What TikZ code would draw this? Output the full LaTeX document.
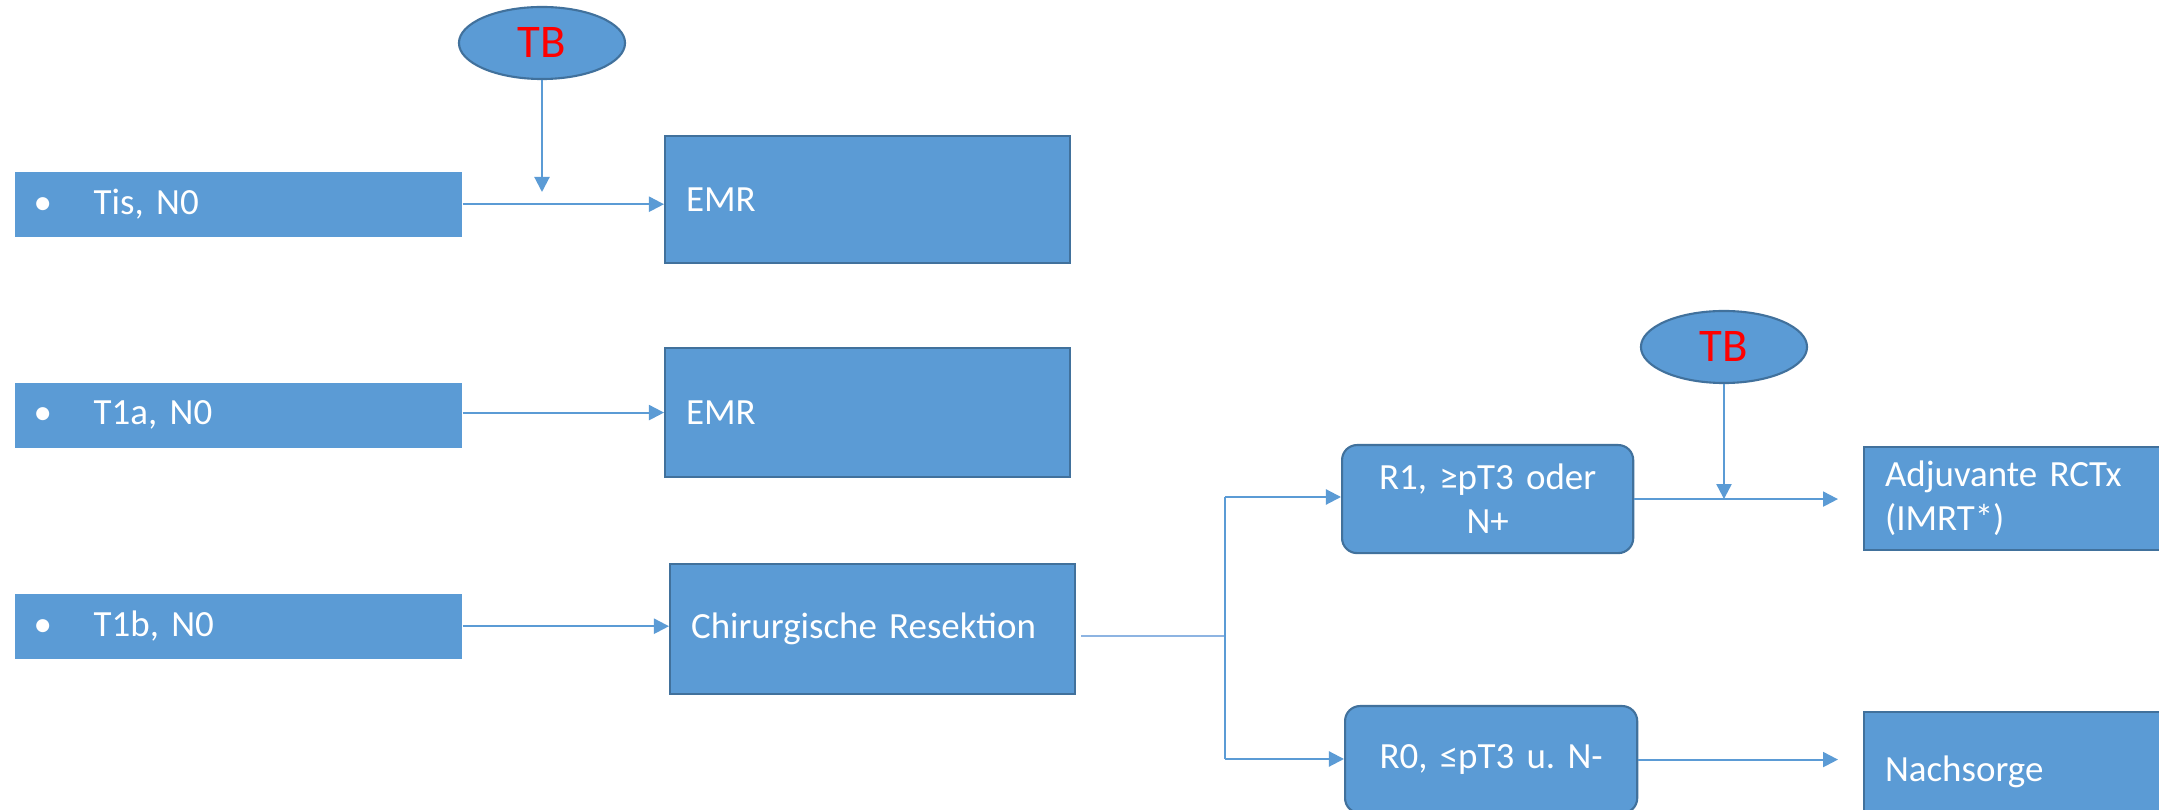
\documentclass[tikz,border=0pt]{standalone}
\usepackage{fontspec}
\setmainfont{Carlito}
\usetikzlibrary{shapes.geometric,arrows.meta}
\definecolor{fillblue}{HTML}{5B9BD5}
\definecolor{edgeblue}{HTML}{41719C}
\definecolor{lineblue}{HTML}{5B9BD5}
\definecolor{thinblue}{HTML}{8DB4E2}
\newcommand{\calfont}{\fontsize{10.5}{12.5}\selectfont\frenchspacing\spaceskip=0.226em\relax\xspaceskip=0.226em\relax}
\begin{document}
\begin{tikzpicture}[x=0.01cm,y=-0.01cm,
  font=\calfont,
  lbox/.style={fill=fillblue, draw=none, anchor=north west, inner sep=0pt,
    text width=4.47cm, minimum height=0.65cm, align=left, text=white},
  rbox/.style={fill=fillblue, draw=edgeblue, line width=0.6pt, anchor=north west,
    inner xsep=0.21cm, inner ysep=0pt, align=left, text=white},
  rrbox/.style={rbox, rounded corners=0.15cm, align=center},
  tbnode/.style={ellipse, fill=fillblue, draw=edgeblue, line width=0.6pt,
    inner sep=0pt, minimum width=1.66cm, minimum height=0.72cm,
    text=red, font=\fontsize{13.3}{15}\selectfont},
  arr/.style={draw=lineblue, line width=0.6pt, -{Triangle[length=0.15cm,width=0.15cm]}},
  conn/.style={draw=lineblue, line width=0.6pt},
  thinconn/.style={draw=thinblue, line width=0.4pt}
]
\clip (0,0) rectangle (2159,810);
\fill[white] (0,0) rectangle (2159,810);

% left boxes
\node[lbox] (tis) at (14,171) {\hspace*{0.19cm}\makebox[0.6cm][l]{•}Tis, N0};
\node[lbox] (t1a) at (14,382) {\hspace*{0.19cm}\makebox[0.6cm][l]{•}T1a, N0};
\node[lbox] (t1b) at (14,593) {\hspace*{0.19cm}\makebox[0.6cm][l]{•}T1b, N0};

% middle boxes
\node[rbox, text width=3.63cm, minimum height=1.27cm] (emr1) at (664,135) {EMR};
\node[rbox, text width=3.63cm, minimum height=1.29cm] (emr2) at (664,347) {EMR};
\node[rbox, text width=3.63cm, minimum height=1.30cm] (chir) at (669,563) {Chirurgische Resektion};

% decision boxes
\node[rrbox, text width=2.49cm, minimum height=1.08cm] (r1) at (1341,444) {R1, ≥pT3 oder\\N+};
\node[rrbox, text width=2.50cm, minimum height=1.07cm] (r0) at (1344,705) {R0, ≤pT3 u. N-};

% right boxes
\node[rbox, text width=2.70cm, minimum height=1.03cm] (adj) at (1863,446) {Adjuvante RCTx\\(IMRT*)};
\node[rbox, text width=2.70cm, minimum height=1.20cm] (nach) at (1863,711) {Nachsorge};

% tumor boards
\node[tbnode] (tb1) at (542,43) {TB};
\node[tbnode] (tb2) at (1724,347) {TB};

% coordinates
\coordinate (tb1tip) at (542,192);
\coordinate (sTop) at (1225,497);
\coordinate (sMid) at (1225,636);
\coordinate (sBot) at (1225,759);
\coordinate (adjTip) at (1838,498);
\coordinate (nachTip) at (1838,759);

% connectors
\draw[arr] (tis.east) -- (tis.east -| emr1.west);
\draw[arr] (tb1.south) -- (tb1tip);
\draw[arr] (emr2.west -| t1a.east) -- (emr2.west);
\draw[arr] (t1b.east) -- (t1b.east -| chir.west);
\draw[thinconn] (sMid -| chir.east) ++(5,0) -- (sMid);
\draw[conn] (sTop) -- (sBot);
\draw[arr] (sTop) -- (sTop -| r1.west);
\draw[arr] (sBot) -- (sBot -| r0.west);
\draw[arr] (r1.east) -- (r1.east -| adjTip);
\draw[arr] (tb2.south) -- (tb2.south |- r1.east);
\draw[arr] (r0.east) -- (r0.east -| nachTip);
\end{tikzpicture}
\end{document}
